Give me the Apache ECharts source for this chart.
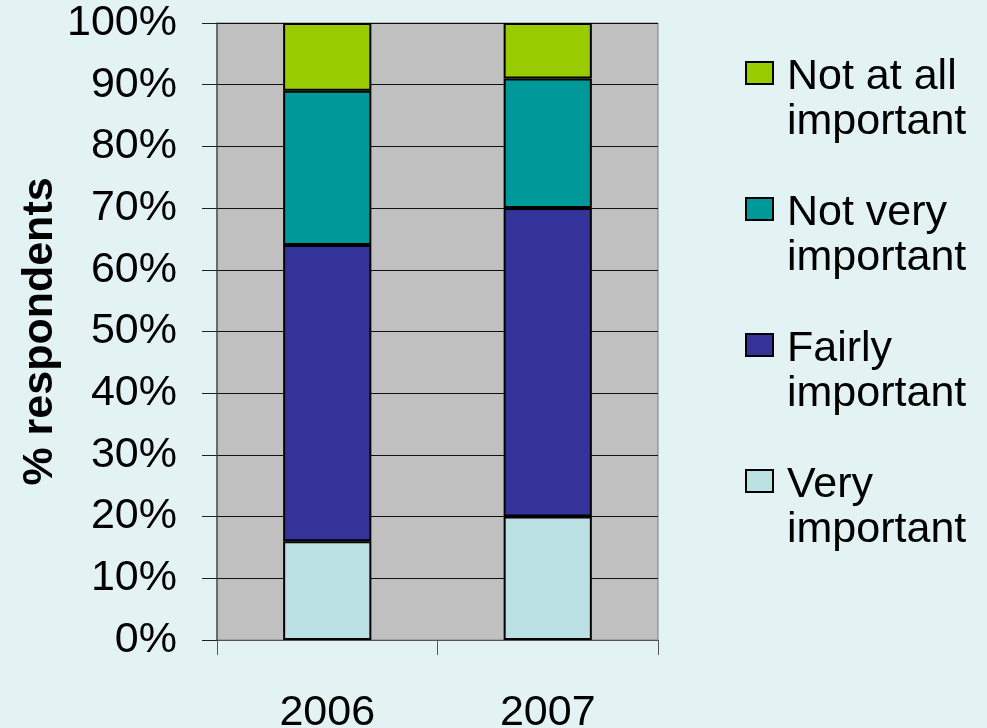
<!DOCTYPE html>
<html>
<head>
<meta charset="utf-8">
<style>
  html, body { margin: 0; padding: 0; background: #E3F2F2; }
  #chart { width: 987px; height: 728px; }
</style>
<script src="https://cdn.jsdelivr.net/npm/echarts@6/dist/echarts.min.js"></script>
</head>
<body>
<div id="chart"></div>
<script>
var years = ['2006', '2007'];
var seriesNames = ['Very\nimportant', 'Fairly\nimportant', 'Not very\nimportant', 'Not at all\nimportant'];
var veryImportant = [16, 20];
var fairlyImportant = [48, 50];
var notVeryImportant = [25, 21];
var notAtAllImportant = [11, 9];
var yTicks = [0, 100, 10];

(function() {
  var font = '"Liberation Sans", Arial, sans-serif';
  var colors = ['#BBE0E3', '#333399', '#009999', '#99CC00'];
  var values = [veryImportant, fairlyImportant, notVeryImportant, notAtAllImportant];

  // legend icon: square at the top of a tall box so it sits on the first text line
  var icon = 'path://M0,0 M0,7 L27,7 L27,29 L0,29 Z M36,90';

  var chart = echarts.init(document.getElementById('chart'), null, { renderer: 'canvas' });
  chart.setOption({
    animation: false,
    backgroundColor: '#E3F2F2',
    grid: {
      left: 217, right: 329, top: 23, bottom: 88,
      outerBoundsMode: 'none',
      show: true, backgroundColor: '#C0C0C0', borderColor: '#808080', borderWidth: 1
    },
    legend: {
      orient: 'vertical',
      left: 745, top: 54,
      padding: 0,
      itemWidth: 36, itemHeight: 90, itemGap: 44,
      icon: icon,
      data: seriesNames.slice().reverse(),
      textStyle: { fontFamily: font, fontSize: 43, lineHeight: 45, color: '#000' }
    },
    xAxis: {
      type: 'category',
      data: years,
      axisLine: { lineStyle: { color: '#555', width: 1 } },
      axisTick: { show: true, length: 15, lineStyle: { color: '#555' } },
      axisLabel: { fontFamily: font, fontSize: 43, color: '#000', margin: 52 },
      splitLine: { show: false }
    },
    yAxis: {
      type: 'value',
      min: yTicks[0], max: yTicks[1], interval: yTicks[2],
      name: '% respondents',
      nameLocation: 'middle',
      nameRotate: 90,
      nameGap: 155,
      nameTextStyle: { fontFamily: font, fontSize: 43, fontWeight: 'bold', color: '#000' },
      axisLine: { show: true, lineStyle: { color: '#555', width: 1.5 } },
      axisTick: { show: true, length: 15, lineStyle: { color: '#222' } },
      axisLabel: { fontFamily: font, fontSize: 43, color: '#000', margin: 40, formatter: '{value}%' },
      splitLine: { show: true, lineStyle: { color: '#111', width: 1 } }
    },
    series: seriesNames.map(function(name, i) {
      return {
        name: name,
        type: 'bar',
        stack: 'total',
        barWidth: '40%',
        data: values[i],
        itemStyle: { color: colors[i], borderColor: '#000', borderWidth: 2 }
      };
    })
  });
})();
</script>
</body>
</html>
